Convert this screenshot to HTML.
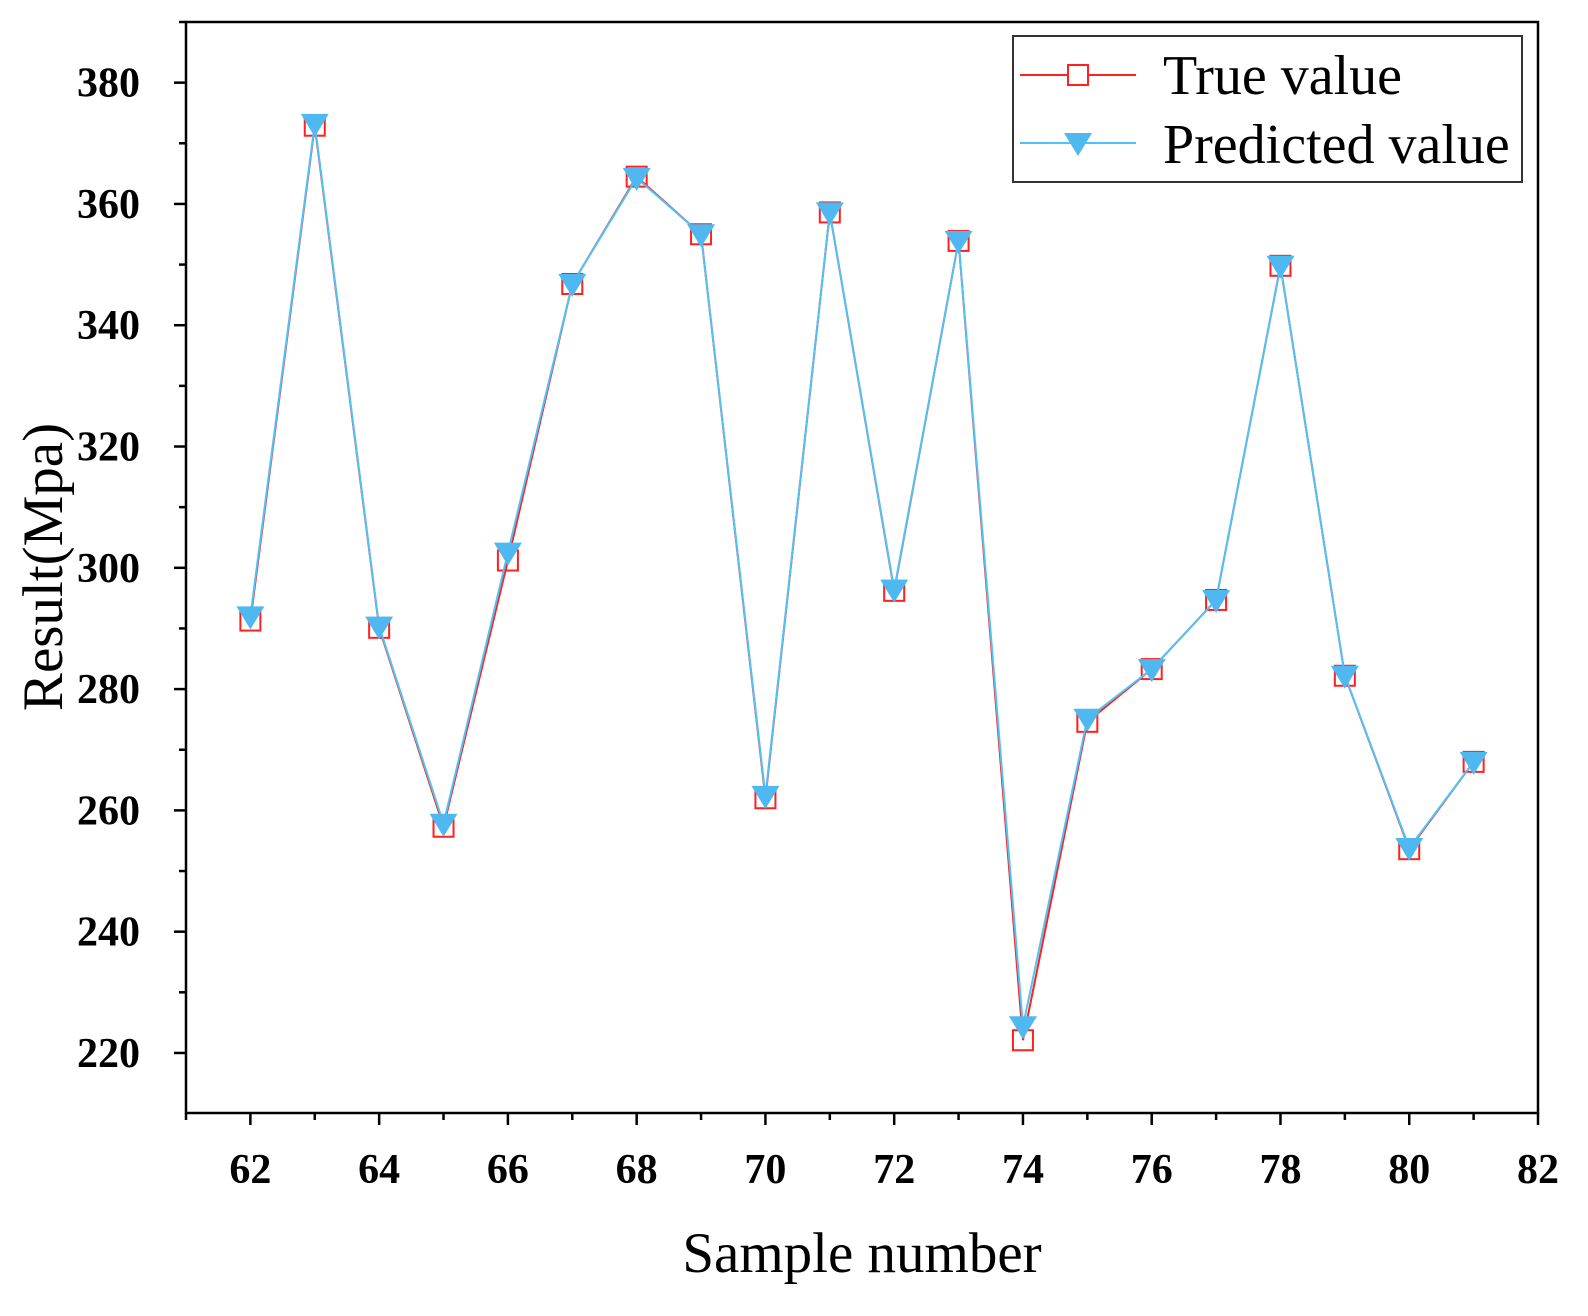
<!DOCTYPE html>
<html><head><meta charset="utf-8"><style>
body{margin:0;background:#fff;}
svg text{font-family:"Liberation Serif",serif;}
</style></head><body>
<svg id="chart" width="1588" height="1311" xmlns="http://www.w3.org/2000/svg">
<g id="g"></g>
</svg>
<script>
const samples=[62,63,64,65,66,67,68,69,70,71,72,73,74,75,76,77,78,79,80,81];
const trueVals=[291.3,372.9,290.1,257.3,301.2,346.8,364.5,355,262,358.6,296.2,353.9,222.1,274.6,283.3,294.7,349.8,282.2,253.6,268];
const predVals=[292,373.2,290.3,257.8,302.5,346.8,364.3,355,262.4,358.6,296.4,353.9,224.4,275.1,283.3,294.7,349.8,282.2,253.8,268];
const xTicks=[62,64,66,68,70,72,74,76,78,80,82];
const yTicks=[220,240,260,280,300,320,340,360,380];
const L=186,R=1538,T=22,B=1113;
const X0=61,X1=82,Y0=210.1,Y1=390;
const sx=v=>L+(v-X0)/(X1-X0)*(R-L);
const sy=v=>B-(v-Y0)/(Y1-Y0)*(B-T);
const NS="http://www.w3.org/2000/svg";
const g=document.getElementById('g');
function el(t,a,txt){const e=document.createElementNS(NS,t);for(const k in a)e.setAttribute(k,a[k]);if(txt!==undefined)e.textContent=txt;g.appendChild(e);return e;}
let e;
e=el('rect',{x:L,y:T,width:R-L,height:B-T,fill:'none',stroke:'#000','stroke-width':2.5});

for(let v=61;v<=82;v++){const maj=xTicks.includes(v);e=el('line',{x1:sx(v),x2:sx(v),y1:B,y2:B+(maj?12:7),stroke:'#000','stroke-width':2.5});
}
xTicks.forEach(v=>{e=el('text',{x:sx(v),y:B+70,'text-anchor':'middle','font-size':42,'font-weight':'bold'},v);
});
for(let v=220;v<=390;v+=10){const maj=yTicks.includes(v);e=el('line',{x1:L,x2:L-(maj?12:7),y1:sy(v),y2:sy(v),stroke:'#000','stroke-width':2.5});
}
yTicks.forEach(v=>{e=el('text',{x:L-46,y:sy(v)+14,'text-anchor':'end','font-size':42,'font-weight':'bold'},v);
});
e=el('text',{x:862,y:1272,'text-anchor':'middle','font-size':57},'Sample number');

e=el('text',{x:0,y:0,'text-anchor':'middle','font-size':57,transform:`translate(62,567) rotate(-90)`},'Result(Mpa)');

e=el('polyline',{points:samples.map((s,i)=>sx(s)+','+sy(trueVals[i])).join(' '),fill:'none',stroke:'#ff2020','stroke-width':2});

samples.forEach((s,i)=>{e=el('rect',{x:sx(s)-10,y:sy(trueVals[i])-10,width:20,height:20,fill:'none',stroke:'#ff2020','stroke-width':2});
});
e=el('polyline',{points:samples.map((s,i)=>sx(s)+','+sy(predVals[i])).join(' '),fill:'none',stroke:'#4fc3f7','stroke-width':2});

samples.forEach((s,i)=>{const x=sx(s),y=sy(predVals[i]);e=el('polygon',{points:`${x-14},${y-10} ${x+14},${y-10} ${x},${y+13}`,fill:'#4fb8f0'});
});
e=el('rect',{x:1013,y:36,width:509,height:146,fill:'#fff',stroke:'#333','stroke-width':2});

e=el('line',{x1:1020,x2:1136,y1:75,y2:75,stroke:'#ff2020','stroke-width':2});

e=el('rect',{x:1068,y:65,width:20,height:20,fill:'#fff',stroke:'#ff2020','stroke-width':2});

e=el('text',{x:1163,y:94,'font-size':56},'True value');

e=el('line',{x1:1020,x2:1136,y1:143,y2:143,stroke:'#4fc3f7','stroke-width':2});

e=el('polygon',{points:'1064,133 1092,133 1078,156',fill:'#4fb8f0'});

e=el('text',{x:1163,y:163,'font-size':56},'Predicted value');

</script>
</body></html>
